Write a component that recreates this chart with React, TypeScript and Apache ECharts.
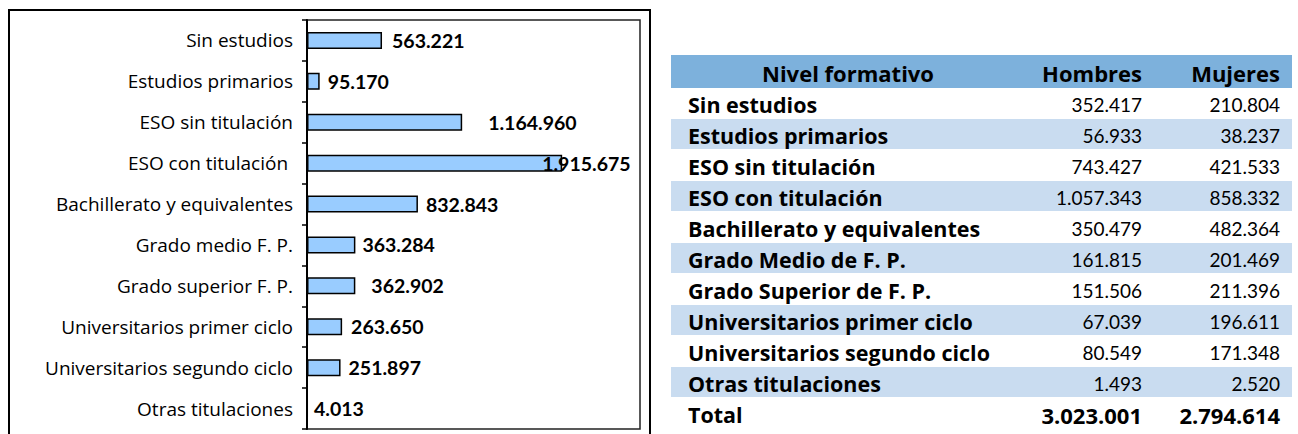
import React, { useEffect, useRef } from "react";
import * as echarts from "echarts";

// ---- Data ----
const chartCategories = [
  "Sin estudios",
  "Estudios primarios",
  "ESO sin titulación",
  "ESO con titulación ",
  "Bachillerato y equivalentes",
  "Grado medio F. P.",
  "Grado superior F. P.",
  "Universitarios primer ciclo",
  "Universitarios segundo ciclo",
  "Otras titulaciones",
];
const chartValues = [563221, 95170, 1164960, 1915675, 832843, 363284, 362902, 263650, 251897, 4013];
const labelDx = [10, 8, 26, -20, 8, 7, 16, 9, 8, 6];

const tableHeader = ["Nivel formativo", "Hombres", "Mujeres"];
const tableCategories = [
  "Sin estudios",
  "Estudios primarios",
  "ESO sin titulación",
  "ESO con titulación",
  "Bachillerato y equivalentes",
  "Grado Medio de F. P.",
  "Grado Superior de F. P.",
  "Universitarios primer ciclo",
  "Universitarios segundo ciclo",
  "Otras titulaciones",
];
const hombres = [352417, 56933, 743427, 1057343, 350479, 161815, 151506, 67039, 80549, 1493];
const mujeres = [210804, 38237, 421533, 858332, 482364, 201469, 211396, 196611, 171348, 2520];
const totalLabel = "Total";
const totalHombres = 3023001;
const totalMujeres = 2794614;

const FONT_TXT = "Open Sans";
const FONT_NUM = "Lato";
const fmt = (v: number) => String(v).replace(/\B(?=(\d{3})+(?!\d))/g, ".");

function buildTable() {
  const x0 = 671, x1 = 1292;
  const headTop = 55, headBottom = 88;
  const rowH = 31;
  const labelX = 688, hombresX = 1142, mujeresX = 1280;
  const els: any[] = [];
  els.push({ type: "rect", shape: { x: x0, y: headTop, width: x1 - x0, height: headBottom - headTop }, style: { fill: "#7DB1DC" }, silent: true });
  const hy = (headTop + headBottom) / 2 + 1;
  const headStyle = { fontFamily: FONT_TXT, fontSize: 22, fontWeight: "bold", fill: "#000", verticalAlign: "middle" };
  els.push({ type: "text", x: 848, y: hy, style: { ...headStyle, text: tableHeader[0], align: "center" } });
  els.push({ type: "text", x: hombresX, y: hy, style: { ...headStyle, text: tableHeader[1], align: "right" } });
  els.push({ type: "text", x: mujeresX, y: hy, style: { ...headStyle, text: tableHeader[2], align: "right" } });
  const rows = tableCategories.map((c, i) => ({ c, h: hombres[i], m: mujeres[i], bold: false }));
  rows.push({ c: totalLabel, h: totalHombres, m: totalMujeres, bold: true });
  rows.forEach((r, i) => {
    const top = headBottom + rowH * i;
    if (i % 2 === 1) {
      els.push({ type: "rect", shape: { x: x0, y: top, width: x1 - x0, height: rowH - 1 }, style: { fill: "#C9DCF0" }, silent: true });
    }
    const cy = top + rowH / 2 + 1;
    els.push({ type: "text", x: labelX, y: cy, style: { text: r.c, fontFamily: FONT_TXT, fontSize: 21.5, fontWeight: "bold", fill: "#000", verticalAlign: "middle", align: "left" } });
    const numStyle = { fontFamily: r.bold ? FONT_TXT : FONT_NUM, fontSize: r.bold ? 22 : 19, fontWeight: r.bold ? "bold" : "normal", fill: "#000", verticalAlign: "middle", align: "right" };
    els.push({ type: "text", x: hombresX, y: cy, style: { ...numStyle, text: fmt(r.h) } });
    els.push({ type: "text", x: mujeresX, y: cy, style: { ...numStyle, text: fmt(r.m) } });
  });
  return els;
}

export default function App() {
  const ref = useRef<HTMLDivElement>(null);
  useEffect(() => {
    if (!ref.current) return;
    const chart = echarts.init(ref.current, null, { renderer: "svg" });
    chart.setOption({
      animation: false,
      backgroundColor: "#fff",
      grid: { left: 307, top: 20, right: 658, bottom: 5, show: true, borderColor: "#222", borderWidth: 1.5, containLabel: false },
      xAxis: {
        type: "value",
        min: 0,
        max: 2500000,
        axisLabel: { show: false },
        axisTick: { show: false },
        axisLine: { show: false },
        splitLine: { show: false },
      },
      yAxis: {
        type: "category",
        inverse: true,
        data: chartCategories,
        axisLine: { show: true, lineStyle: { color: "#000", width: 2 } },
        axisTick: { show: true, length: 5, lineStyle: { color: "#000", width: 1.5 } },
        axisLabel: { color: "#000", fontFamily: FONT_TXT, fontSize: 19, margin: 14 },
      },
      series: [
        {
          type: "bar",
          barWidth: 17,
          data: chartValues.map((v, i) => ({ value: v, label: { offset: [labelDx[i], 0] } })),
          itemStyle: { color: "#99CCFF", borderColor: "#000", borderWidth: 1.5 },
          label: {
            show: true,
            position: "right",
            distance: 0,
            color: "#000",
            fontFamily: FONT_NUM,
            fontSize: 19.5,
            fontWeight: "bold",
            formatter: (p: any) => fmt(p.value),
          },
        },
      ],
      graphic: [
        { type: "rect", shape: { x: 9, y: 10, width: 641, height: 440 }, style: { fill: "none", stroke: "#000", lineWidth: 2 }, silent: true, z: 10 },
        ...buildTable(),
      ],
    });
    return () => chart.dispose();
  }, []);
  return <div ref={ref} style={{ position: "fixed", left: 0, top: 0, width: 1298, height: 434 }} />;
}
